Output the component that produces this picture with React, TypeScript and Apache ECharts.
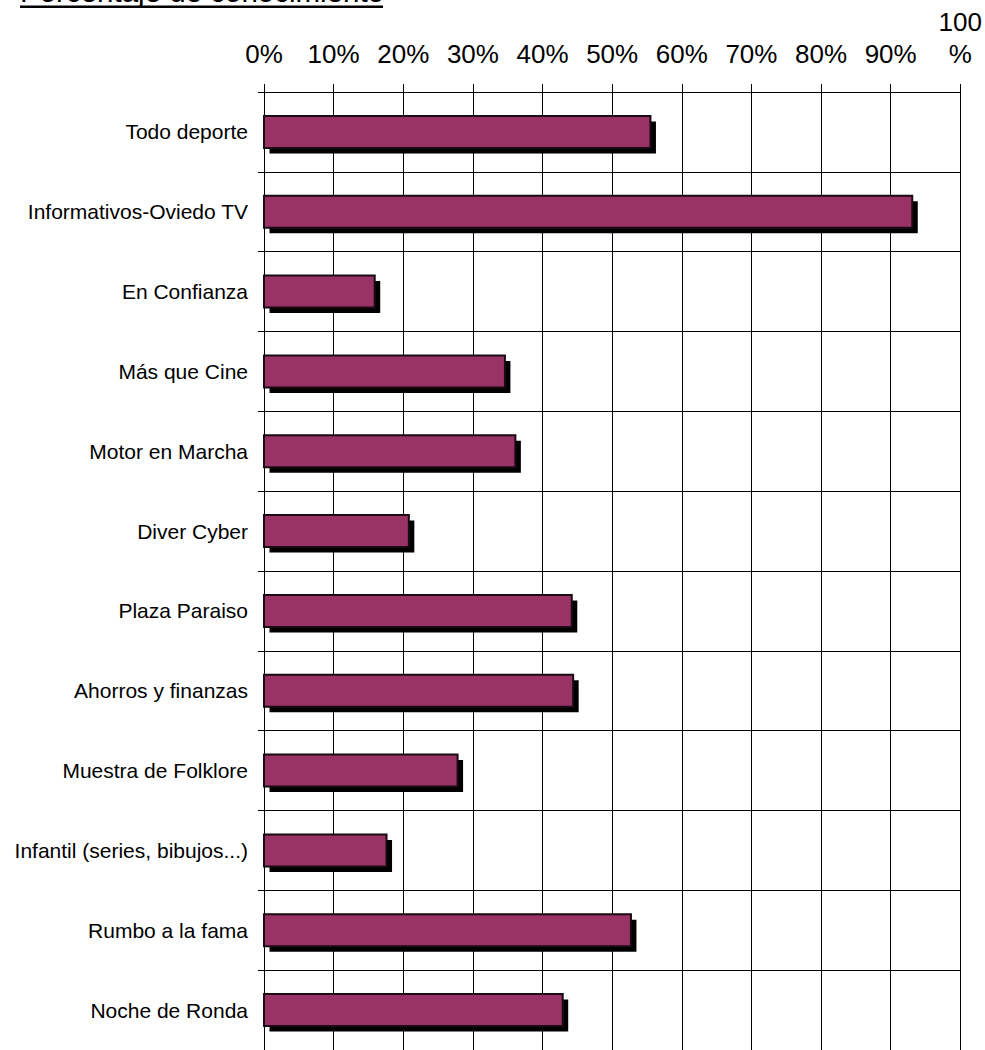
import React, { useEffect, useRef } from "react";
import * as echarts from "echarts";

const categories = [
  "Todo deporte",
  "Informativos-Oviedo TV",
  "En Confianza",
  "Más que Cine",
  "Motor en Marcha",
  "Diver Cyber",
  "Plaza Paraiso",
  "Ahorros y finanzas",
  "Muestra de Folklore",
  "Infantil (series, bibujos...)",
  "Rumbo a la fama",
  "Noche de Ronda",
];
const values = [55.5, 93.1, 15.9, 34.6, 36.1, 20.8, 44.2, 44.4, 27.8, 17.6, 52.7, 42.9];
const tickValues = [0, 10, 20, 30, 40, 50, 60, 70, 80, 90, 100];
const titleText = "Porcentaje de conocimiento";

const FONT = "'Liberation Sans', Arial, Helvetica, sans-serif";

export default function App() {
  const ref = useRef<HTMLDivElement>(null);
  useEffect(() => {
    if (!ref.current) return;
    const chart = echarts.init(ref.current, null, { renderer: "svg" });
    const data = values.map((v, i) => [v, i]);
    chart.setOption({
      animation: false,
      backgroundColor: "#fff",
      grid: { left: 264, top: 92, width: 697, height: 962.4 },
      graphic: [
        {
          type: "text",
          left: 20,
          top: -24,
          style: {
            text: titleText,
            font: `29.5px ${FONT}`,
            fill: "#000",
          },
        },
        {
          type: "rect",
          shape: { x: 20, y: 5.5, width: 363, height: 2.5 },
          style: { fill: "#000" },
        },
      ],
      xAxis: {
        type: "value",
        position: "top",
        min: tickValues[0],
        max: tickValues[tickValues.length - 1],
        interval: 10,
        axisLine: { show: true, lineStyle: { color: "#000", width: 1 } },
        axisTick: { show: true, length: 8, lineStyle: { color: "#000" } },
        splitLine: { show: true, lineStyle: { color: "#000", width: 1 } },
        axisLabel: {
          color: "#000",
          fontSize: 26,
          fontFamily: FONT,
          margin: 22,
          lineHeight: 32,
          formatter: (v: number) => (v === 100 ? "100\n%" : `${v}%`),
        },
      },
      yAxis: {
        type: "category",
        inverse: true,
        data: categories,
        axisLine: { show: true, lineStyle: { color: "#000", width: 1 } },
        axisTick: { show: true, length: 6, lineStyle: { color: "#000" } },
        splitLine: { show: true, lineStyle: { color: "#000", width: 1 } },
        axisLabel: {
          color: "#000",
          fontSize: 21,
          fontFamily: FONT,
          margin: 16,
        },
      },
      series: [
        {
          type: "custom",
          data,
          encode: { x: 0, y: 1 },
          renderItem: (params: any, api: any) => {
            const v = api.value(0);
            const i = api.value(1);
            const s = api.coord([0, i]);
            const e = api.coord([v, i]);
            const h = 32;
            const w = e[0] - s[0];
            return {
              type: "group",
              children: [
                {
                  type: "rect",
                  shape: { x: s[0] + 5.5, y: s[1] - h / 2 + 5.5, width: w, height: h },
                  style: { fill: "#000" },
                },
                {
                  type: "rect",
                  shape: { x: s[0], y: s[1] - h / 2, width: w, height: h },
                  style: { fill: "#993366", stroke: "#1a0a12", lineWidth: 2 },
                },
              ],
            };
          },
        },
      ],
    });
    return () => chart.dispose();
  }, []);
  return (
    <div
      ref={ref}
      style={{ position: "absolute", left: 0, top: 0, width: 985, height: 1050 }}
    />
  );
}
